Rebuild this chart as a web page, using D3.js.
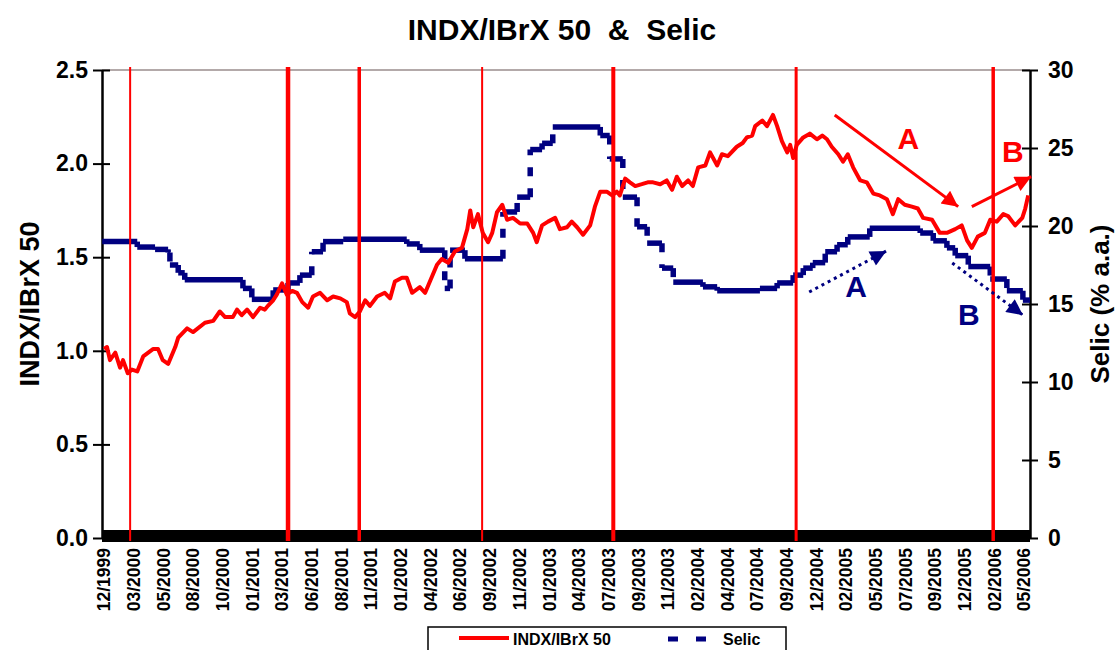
<!DOCTYPE html>
<html lang="en">
<head>
<meta charset="UTF-8" />
<title>INDX/IBrX 50 & Selic</title>
<style>
  body { margin: 0; background: #fff; }
  svg text { font-family: "Liberation Sans", Arial, sans-serif; font-weight: bold; }
</style>
</head>
<body>
<svg width="1118" height="650"></svg>
<script src="https://d3js.org/d3.v7.min.js"></script>
<script>
// x is a trading-day index, one category label every 50 days
var xLabels = ["12/1999","03/2000","05/2000","08/2000","10/2000","01/2001","03/2001","06/2001",
  "08/2001","11/2001","01/2002","04/2002","06/2002","09/2002","11/2002","01/2003","04/2003",
  "07/2003","09/2003","11/2003","02/2004","04/2004","07/2004","09/2004","12/2004","02/2005",
  "05/2005","07/2005","09/2005","12/2005","02/2006","05/2006"];

// INDX/IBrX 50 ratio (left axis)
var idxDays = [0,5,10,19,27,32,40,47,56,66,83,91,99,108,120,125,140,150,170,184,195,204,217,224,232,241,251,263,271,276,285,291,300,308,317,325,334,344,352,364,376,386,398,409,414,423,431,440,448,460,473,482,490,502,510,519,532,541,549,561,569,580,591,603,612,617,622,630,638,647,654,662,671,679,689,701,713,723,729,738,748,760,768,780,788,797,807,819,827,836,847,856,864,869,878,886,895,906,916,925,937,948,957,965,974,984,992,1001,1013,1021,1033,1041,1051,1066,1076,1083,1092,1097,1109,1117,1122,1127,1134,1142,1151,1156,1161,1167,1178,1189,1201,1210,1218,1226,1237,1245,1253,1262,1274,1285,1296,1307,1319,1329,1338,1349,1361,1371,1380,1395,1408,1420,1434,1445,1454,1462,1472,1484,1493,1504,1515,1523,1535,1547,1552,1557];
var idxVals = [1.01,1.02,0.95,0.99,0.91,0.95,0.88,0.90,0.89,0.97,1.01,1.01,0.95,0.93,1.02,1.07,1.12,1.10,1.15,1.16,1.21,1.18,1.18,1.22,1.19,1.22,1.18,1.23,1.22,1.24,1.27,1.30,1.36,1.30,1.32,1.31,1.26,1.23,1.29,1.31,1.27,1.29,1.28,1.26,1.20,1.18,1.21,1.27,1.24,1.29,1.31,1.28,1.37,1.39,1.39,1.31,1.34,1.31,1.37,1.46,1.49,1.47,1.53,1.55,1.65,1.75,1.66,1.73,1.63,1.58,1.63,1.74,1.78,1.70,1.71,1.68,1.68,1.63,1.58,1.67,1.69,1.71,1.65,1.66,1.69,1.66,1.62,1.67,1.77,1.85,1.85,1.83,1.85,1.83,1.92,1.90,1.88,1.89,1.90,1.90,1.89,1.91,1.86,1.93,1.88,1.91,1.88,1.98,1.99,2.06,1.99,2.05,2.04,2.09,2.11,2.14,2.15,2.20,2.23,2.20,2.23,2.26,2.20,2.12,2.06,2.10,2.03,2.10,2.14,2.16,2.13,2.15,2.13,2.09,2.05,2.01,2.05,1.98,1.91,1.90,1.84,1.83,1.81,1.73,1.81,1.78,1.77,1.76,1.71,1.70,1.63,1.63,1.65,1.67,1.59,1.55,1.61,1.63,1.70,1.69,1.73,1.72,1.67,1.71,1.76,1.83];

// Selic rate, % a.a. (right axis), value holds from each day to the next
var selicDays = [-3,56,86,108,111,125,136,234,249,285,310,330,350,369,403,510,532,574,583,608,672,696,718,738,756,836,852,874,898,915,940,959,1009,1033,1105,1134,1161,1178,1194,1215,1235,1253,1290,1375,1397,1420,1434,1456,1493,1521,1548,1560];
var selicVals = [19.0,18.65,18.5,18.3,17.5,17.0,16.55,16.0,15.3,15.9,16.35,16.85,18.35,19.0,19.15,18.85,18.45,16.0,18.45,17.9,20.9,21.85,24.9,25.3,26.35,25.8,24.3,21.85,19.95,18.9,17.3,16.4,16.1,15.85,16.0,16.35,16.85,17.3,17.65,18.35,18.8,19.3,19.85,19.55,19.05,18.6,18.1,17.4,16.6,15.85,15.25,15.25];

// vertical event markers (trading day)
var eventDays = [44, 310, 430, 637, 858, 1166, 1498];

var svg = d3.select("svg"),
    red = "#ff0000",
    navy = "#000080";

var x = d3.scaleLinear().domain([-3.4, 1560]).range([102, 1030]);
var yL = d3.scaleLinear().domain([0, 2.5]).range([538, 70]);
var yR = d3.scaleLinear().domain([0, 30]).range([538, 70]);

// title
svg.append("text")
    .attr("x", 562).attr("y", 40)
    .attr("text-anchor", "middle")
    .attr("font-size", "30px")
    .style("white-space", "pre")
    .text("INDX/IBrX 50  &  Selic");

// top border
svg.append("line")
    .attr("x1", 102).attr("x2", 1030).attr("y1", 70).attr("y2", 70)
    .attr("stroke", "#9a8c8c").attr("stroke-width", 1.5);

// black band of x ticks
svg.append("rect")
    .attr("x", 102).attr("y", 530).attr("width", 928).attr("height", 12)
    .attr("fill", "#000");

// left axis
var gL = svg.append("g").attr("transform", "translate(102,0)")
    .call(d3.axisLeft(yL).tickValues([0, 0.5, 1, 1.5, 2, 2.5]).tickFormat(d3.format(".1f"))
      .tickSizeInner(9).tickSizeOuter(0).tickPadding(5));
gL.selectAll(".tick line").attr("x2", 8).attr("x1", -9).attr("stroke-width", 2);
gL.select(".domain").attr("stroke-width", 2.5);
gL.selectAll("text").attr("font-size", "23px").attr("fill", "#000")
    .attr("font-family", "'Liberation Sans', Arial, sans-serif").attr("font-weight", "bold");

// right axis
var gR = svg.append("g").attr("transform", "translate(1030,0)")
    .call(d3.axisRight(yR).tickValues([0, 5, 10, 15, 20, 25, 30])
      .tickSizeInner(8).tickSizeOuter(0).tickPadding(10));
gR.selectAll(".tick line").attr("x1", -8).attr("x2", 8).attr("stroke-width", 2);
gR.select(".domain").attr("stroke-width", 2.5);
gR.selectAll("text").attr("font-size", "23px").attr("fill", "#000")
    .attr("font-family", "'Liberation Sans', Arial, sans-serif").attr("font-weight", "bold");

// x labels
svg.append("g").selectAll("text")
    .data(xLabels)
    .enter().append("text")
    .attr("transform", function(d, i) { return "translate(" + x(i * 50) + ",548) rotate(-90)"; })
    .attr("dy", "0.36em")
    .attr("text-anchor", "end")
    .attr("font-size", "17.5px")
    .text(function(d) { return d; });

// axis titles
svg.append("text")
    .attr("transform", "translate(39,304) rotate(-90)")
    .attr("text-anchor", "middle")
    .attr("font-size", "27px")
    .text("INDX/IBrX 50");

svg.append("text")
    .attr("transform", "translate(1109,304) rotate(-90)")
    .attr("text-anchor", "middle")
    .attr("font-size", "26px")
    .text("Selic (% a.a.)");

// Selic: horizontal runs solid, the jumps come out dashed
var steps = selicDays.slice(0, -1).map(function(d, i) {
    return { d0: d, d1: selicDays[i + 1], v: selicVals[i], vNext: selicVals[i + 1] };
});
var gS = svg.append("g");
gS.selectAll("line.run")
    .data(steps)
    .enter().append("line")
    .attr("class", "run")
    .attr("x1", function(s) { return x(s.d0); })
    .attr("x2", function(s) { return x(s.d1); })
    .attr("y1", function(s) { return yR(s.v); })
    .attr("y2", function(s) { return yR(s.v); })
    .attr("stroke", navy).attr("stroke-width", 5.5);
gS.selectAll("line.jump")
    .data(steps.filter(function(s) { return s.v !== s.vNext; }))
    .enter().append("line")
    .attr("class", "jump")
    .attr("x1", function(s) { return x(s.d1); })
    .attr("x2", function(s) { return x(s.d1); })
    .attr("y1", function(s) { return yR(s.v); })
    .attr("y2", function(s) { return yR(s.vNext); })
    .attr("stroke", navy).attr("stroke-width", 5.5)
    .attr("stroke-dasharray", "9,12");

// INDX/IBrX 50 line
var line = d3.line()
    .x(function(d) { return x(d[0]); })
    .y(function(d) { return yL(d[1]); });
svg.append("path")
    .datum(d3.zip(idxDays, idxVals))
    .attr("fill", "none")
    .attr("stroke", red)
    .attr("stroke-width", 4)
    .attr("stroke-linejoin", "round")
    .attr("d", line);

// event lines
var eventWidths = [2, 4.5, 3.5, 2, 4, 3, 3.5];
svg.append("g").selectAll("line")
    .data(eventDays)
    .enter().append("line")
    .attr("x1", function(d) { return x(d); })
    .attr("x2", function(d) { return x(d); })
    .attr("y1", 67).attr("y2", 541)
    .attr("stroke", red)
    .attr("stroke-width", function(d, i) { return eventWidths[i]; });

// annotation arrows
var defs = svg.append("defs");
function marker(id, color, w, h) {
    defs.append("marker")
        .attr("id", id)
        .attr("viewBox", "0 0 10 10")
        .attr("refX", 10).attr("refY", 5)
        .attr("markerUnits", "userSpaceOnUse")
        .attr("markerWidth", w).attr("markerHeight", h)
        .attr("orient", "auto")
        .append("path").attr("d", "M0,0L10,5L0,10Z").attr("fill", color);
}
marker("headRed", red, 20, 16);
marker("headNavy", navy, 18, 16);

var redArrows = [[1231, 2.26, 1439, 1.77], [1462, 1.77, 1562, 1.93]];
svg.append("g").selectAll("line")
    .data(redArrows)
    .enter().append("line")
    .attr("x1", function(a) { return x(a[0]); })
    .attr("y1", function(a) { return yL(a[1]); })
    .attr("x2", function(a) { return x(a[2]); })
    .attr("y2", function(a) { return yL(a[3]); })
    .attr("stroke", red).attr("stroke-width", 3)
    .attr("marker-end", "url(#headRed)");

var navyArrows = [[1188, 15.77, 1318, 18.4], [1429, 17.63, 1548, 14.29]];
svg.append("g").selectAll("line")
    .data(navyArrows)
    .enter().append("line")
    .attr("x1", function(a) { return x(a[0]); })
    .attr("y1", function(a) { return yR(a[1]); })
    .attr("x2", function(a) { return x(a[2]); })
    .attr("y2", function(a) { return yR(a[3]); })
    .attr("stroke", navy).attr("stroke-width", 3)
    .attr("stroke-dasharray", "3,4")
    .attr("marker-end", "url(#headNavy)");

var redNotes = [["A", 1355, 2.08], ["B", 1531, 2.01]];
svg.append("g").selectAll("text")
    .data(redNotes)
    .enter().append("text")
    .attr("x", function(n) { return x(n[1]); })
    .attr("y", function(n) { return yL(n[2]); })
    .attr("text-anchor", "middle")
    .attr("font-size", "30px")
    .attr("fill", red)
    .text(function(n) { return n[0]; });

var navyNotes = [["A", 1267, 15.45], ["B", 1457, 13.65]];
svg.append("g").selectAll("text")
    .data(navyNotes)
    .enter().append("text")
    .attr("x", function(n) { return x(n[1]); })
    .attr("y", function(n) { return yR(n[2]); })
    .attr("text-anchor", "middle")
    .attr("font-size", "30px")
    .attr("fill", navy)
    .text(function(n) { return n[0]; });

// legend
var lg = svg.append("g");
lg.append("rect")
    .attr("x", 428).attr("y", 627).attr("width", 358).attr("height", 40)
    .attr("fill", "#fff").attr("stroke", "#000").attr("stroke-width", 1.5);
lg.append("line")
    .attr("x1", 459).attr("x2", 509).attr("y1", 638).attr("y2", 638)
    .attr("stroke", red).attr("stroke-width", 4);
lg.append("text").attr("x", 513).attr("y", 645).attr("font-size", "16px").text("INDX/IBrX 50");
lg.append("line")
    .attr("x1", 668).attr("x2", 706).attr("y1", 639).attr("y2", 639)
    .attr("stroke", navy).attr("stroke-width", 5)
    .attr("stroke-dasharray", "10,18");
lg.append("text").attr("x", 723).attr("y", 645).attr("font-size", "16px").text("Selic");
</script>
</body>
</html>
